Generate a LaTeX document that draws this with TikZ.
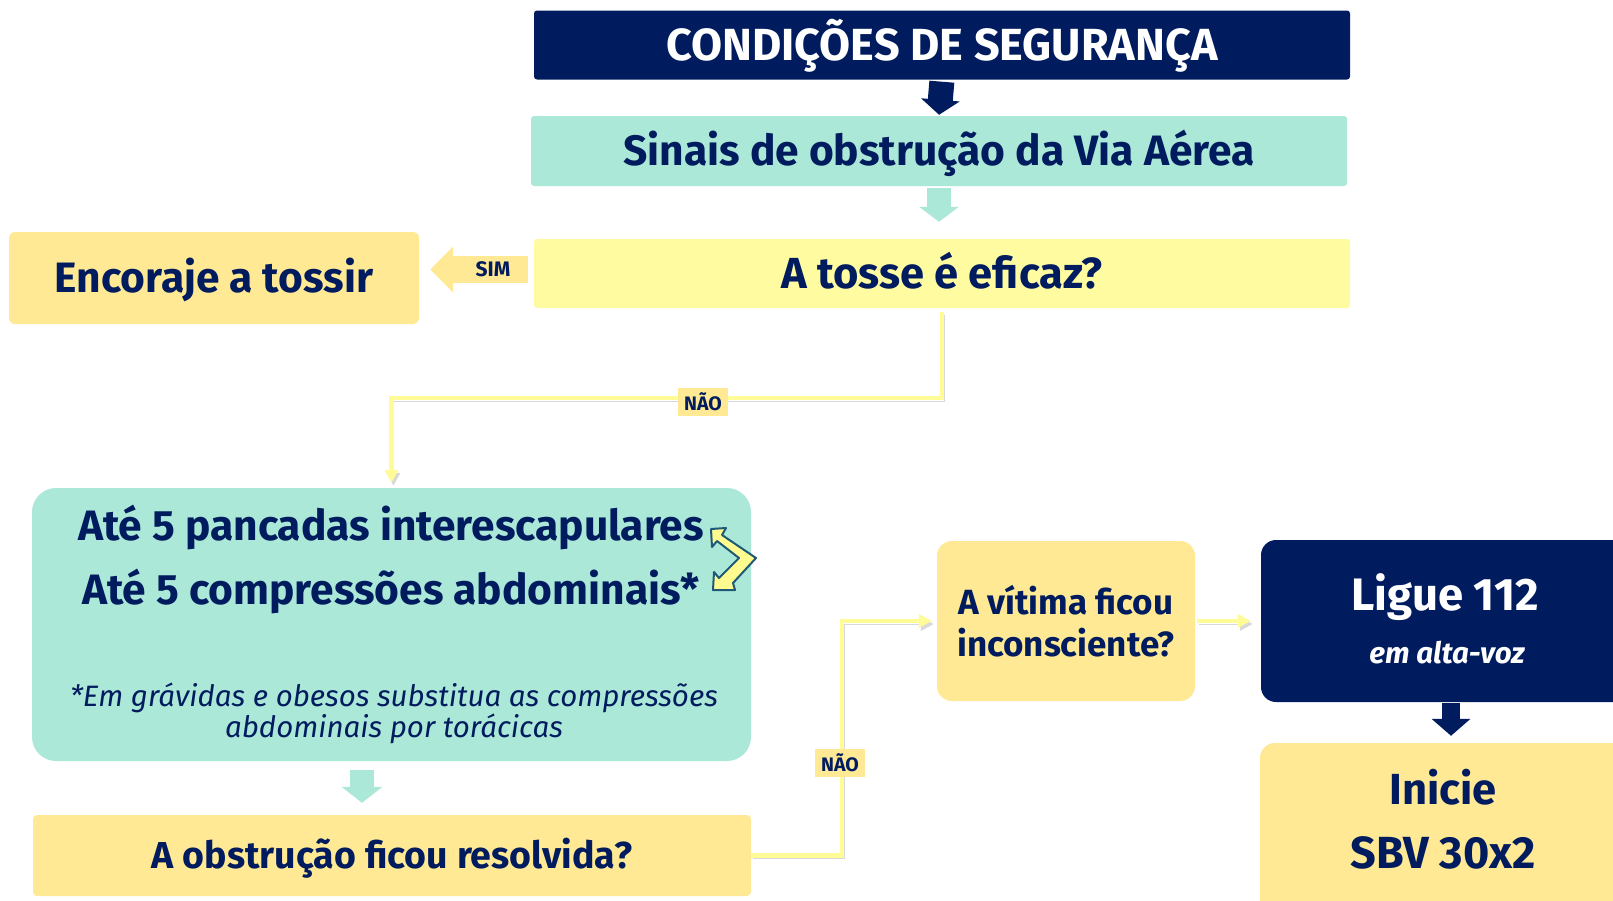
\documentclass[tikz,border=0pt]{standalone}
\usepackage{fontspec}
\setmainfont{Fira Sans}
\usetikzlibrary{arrows.meta}
\definecolor{navy}{HTML}{001C5F}
\definecolor{mint}{HTML}{ACE8D7}
\definecolor{paleyellow}{HTML}{FFFBA0}
\definecolor{gold}{HTML}{FFE994}
\definecolor{lineyellow}{HTML}{FFFB96}
\definecolor{chevronfill}{HTML}{FFFB8F}
\definecolor{chevronedge}{HTML}{1E5A78}
\newcommand{\fsz}[2]{\fontsize{#1pt}{#2pt}\selectfont}
\tikzset{
  box/.style={rectangle, inner sep=0pt, text=navy, align=center},
  capcenter/.style={text height=#1, text depth=0pt},
  txt/.style={inner sep=0pt, text=navy, align=center},
  flowline/.style={draw=lineyellow, line width=4.5pt, -{Triangle[length=13pt,width=13pt]},
    preaction={draw=black!15, transform canvas={shift={(2pt,-3pt)}}}},
  tag/.style={fill=gold, text=navy, font=\bfseries\fsz{19.5}{23}, inner xsep=6pt, inner ysep=5pt},
}
\begin{document}
\begin{tikzpicture}[x=1pt,y=-1pt]
\useasboundingbox (0,0) rectangle (1613,900);
\fill[white] (0,0) rectangle (1613,900);
\clip (0,0) rectangle (1613,900);
\node[box, fill=navy, text=white, minimum width=816pt, minimum height=69pt, rounded corners=3pt, capcenter=31pt, font=\bfseries\fsz{45}{54}] (seguranca) at (942,45) {CONDIÇÕES DE SEGURANÇA};
\node[box, fill=mint, minimum width=816pt, minimum height=70pt, rounded corners=3pt, capcenter=29pt, font=\bfseries\fsz{42.5}{51}] (sinais) at (939,151) {Sinais de obstrução da Via Aérea};
\node[box, fill=paleyellow, minimum width=816pt, minimum height=69pt, rounded corners=3pt, capcenter=30pt, font=\bfseries\fsz{43.5}{52}] (tosse) at (942,273.5) {A tosse é eficaz?};
\node[box, fill=gold, minimum width=410pt, minimum height=92pt, rounded corners=6pt, capcenter=29pt, font=\bfseries\fsz{42.5}{51}] (encoraje) at (214,278) {Encoraje a tossir};
\node[box, fill=mint, minimum width=719pt, minimum height=273pt, rounded corners=24pt] (golpes) at (391.5,624.5) {};
\node[txt, font=\bfseries\fsz{42.5}{51}] (linha1) at (391,527) {Até 5 pancadas interescapulares};
\node[txt, font=\bfseries\fsz{42.5}{51}] (linha2) at (391,591) {Até 5 compressões abdominais*};
\node[txt, font=\itshape\fsz{29.5}{31}, align=center] (nota) at (394,713) {*Em grávidas e obesos substitua as compressões\\abdominais por torácicas};
\node[box, fill=gold, minimum width=718pt, minimum height=81pt, rounded corners=4pt, capcenter=26pt, font=\bfseries\fsz{37.5}{45}] (resolvida) at (392,855.5) {A obstrução ficou resolvida?};
\node[box, fill=gold, minimum width=258pt, minimum height=160pt, rounded corners=15pt, font=\bfseries\fsz{35}{42}] (vitima) at (1066,621) {A vítima ficou\\inconsciente?};
\node[box, fill=navy, minimum width=380pt, minimum height=162pt, rounded corners=15pt] (ligue) at (1451,621) {};
\node[txt, text=white, font=\bfseries\fsz{45.5}{54}] (ligue112) at (1445,597) {Ligue 112};
\node[txt, text=white, font=\bfseries\itshape\fsz{29.5}{35}] (altavoz) at (1447,653) {em alta-voz};
\node[box, fill=gold, minimum width=382pt, minimum height=177pt, rounded corners=15pt] (inicie) at (1451,831.5) {};
\node[txt, font=\bfseries\fsz{43.5}{52}] (iniciet) at (1443,787) {Inicie};
\node[txt, font=\bfseries\fsz{45}{54}] (sbv) at (1443,853) {SBV 30x2};
\draw[navy, line width=25pt, -{Triangle[width=38pt,length=15pt]}, shorten <=2pt, shorten >=1pt] (seguranca.south) -- (sinais.north);
\draw[mint, line width=24pt, -{Triangle[width=39pt,length=15pt]}, shorten <=2pt, shorten >=17pt] (sinais.south) -- (sinais.south |- tosse.north);
\draw[gold, line width=27pt, -{Triangle[width=45pt,length=23pt]}] ([xshift=-6pt,yshift=4pt]tosse.west) -- ([xshift=11pt,yshift=4pt]tosse.west -| encoraje.east);
\node[txt, font=\bfseries\fsz{21}{25}] (sim) at (493,269.5) {SIM};
\draw[flowline, shorten <=4pt, shorten >=5pt] (tosse.south) -- ++(0,90) -| (golpes.north);
\node[tag] (nao1) at (703,402) {NÃO};
\draw[mint, line width=24pt, -{Triangle[width=40pt,length=16pt]}, shorten <=9pt, shorten >=12pt] ([xshift=-29.5pt]golpes.south) -- ([xshift=-30pt]resolvida.north);
\draw[flowline, shorten >=5pt] (resolvida.east) -- ++(91,0) |- (vitima.west);
\node[tag] (nao2) at (840,763) {NÃO};
\draw[flowline, shorten <=2pt, shorten >=10pt] (vitima.east) -- (ligue.west |- vitima.east);
\draw[navy, line width=18pt, -{Triangle[width=38pt,length=17pt]}, shorten <=1pt, shorten >=7pt] (ligue.south) -- (inicie.north);
\filldraw[fill=chevronfill, draw=chevronedge, line width=2pt, line join=round]
  (711,529) -- (726,528) -- (722,535) -- (756,558) -- (733,583) -- (735,590) -- (713,590)
  -- (714,572) -- (719,578) -- (739,558) -- (717,541) -- (712,547) -- cycle;
\end{tikzpicture}
\end{document}
